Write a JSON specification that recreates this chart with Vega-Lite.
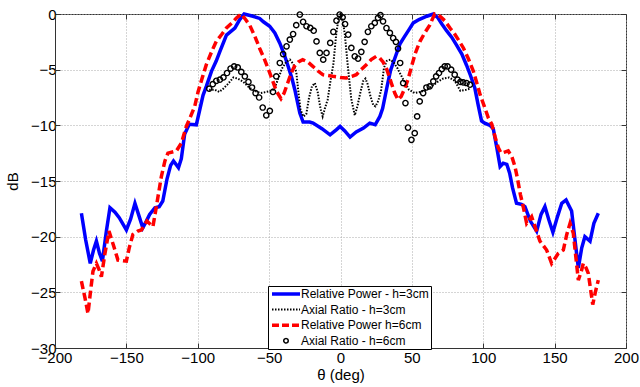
{
  "$schema": "https://vega.github.io/schema/vega-lite/v6.json",
  "width": 571,
  "height": 334,
  "autosize": {"type": "none"},
  "padding": {"left": 55, "top": 14, "right": 14, "bottom": 39},
  "background": "white",
  "config": {
    "font": "Liberation Sans",
    "view": {"stroke": "#333333", "strokeWidth": 1},
    "axis": {
      "labelFont": "Liberation Sans", "titleFont": "Liberation Sans",
      "labelFontSize": 15, "titleFontSize": 15, "labelColor": "#000", "titleColor": "#000",
      "titleFontWeight": "normal", "domainColor": "#333", "tickColor": "#333",
      "gridColor": "#aaaaaa", "gridDash": [1, 2], "gridWidth": 1, "gridOpacity": 1,
      "tickSize": -5, "labelPadding": 4
    },
    "legend": {
      "labelFont": "Liberation Sans", "labelFontSize": 12, "labelColor": "#000",
      "strokeColor": "#000", "fillColor": "white", "padding": 3, "rowPadding": 2,
      "labelOffset": 2, "labelLimit": 300
    }
  },
  "resolve": {"axis": {"x": "independent", "y": "independent"}},
  "data": {"values": [
    {"theta": -181.5, "dB": -17.9, "s": "Relative Power - h=3cm"},
    {"theta": -178.5, "dB": -20.3, "s": "Relative Power - h=3cm"},
    {"theta": -175.3, "dB": -22.4, "s": "Relative Power - h=3cm"},
    {"theta": -173, "dB": -21.2, "s": "Relative Power - h=3cm"},
    {"theta": -171, "dB": -20.4, "s": "Relative Power - h=3cm"},
    {"theta": -168.8, "dB": -21.5, "s": "Relative Power - h=3cm"},
    {"theta": -166.8, "dB": -22.2, "s": "Relative Power - h=3cm"},
    {"theta": -164, "dB": -19.5, "s": "Relative Power - h=3cm"},
    {"theta": -161.5, "dB": -17.4, "s": "Relative Power - h=3cm"},
    {"theta": -158, "dB": -17.8, "s": "Relative Power - h=3cm"},
    {"theta": -155, "dB": -18.3, "s": "Relative Power - h=3cm"},
    {"theta": -150, "dB": -19.4, "s": "Relative Power - h=3cm"},
    {"theta": -147, "dB": -18.4, "s": "Relative Power - h=3cm"},
    {"theta": -144, "dB": -17.0, "s": "Relative Power - h=3cm"},
    {"theta": -141, "dB": -18.2, "s": "Relative Power - h=3cm"},
    {"theta": -138.5, "dB": -19.2, "s": "Relative Power - h=3cm"},
    {"theta": -136, "dB": -18.6, "s": "Relative Power - h=3cm"},
    {"theta": -133.7, "dB": -18.0, "s": "Relative Power - h=3cm"},
    {"theta": -130, "dB": -17.4, "s": "Relative Power - h=3cm"},
    {"theta": -127, "dB": -17.3, "s": "Relative Power - h=3cm"},
    {"theta": -124.5, "dB": -16.8, "s": "Relative Power - h=3cm"},
    {"theta": -121.5, "dB": -14.8, "s": "Relative Power - h=3cm"},
    {"theta": -119, "dB": -13.6, "s": "Relative Power - h=3cm"},
    {"theta": -117, "dB": -13.2, "s": "Relative Power - h=3cm"},
    {"theta": -113.5, "dB": -13.8, "s": "Relative Power - h=3cm"},
    {"theta": -111.5, "dB": -13.0, "s": "Relative Power - h=3cm"},
    {"theta": -109.2, "dB": -10.8, "s": "Relative Power - h=3cm"},
    {"theta": -106, "dB": -9.9, "s": "Relative Power - h=3cm"},
    {"theta": -101, "dB": -9.95, "s": "Relative Power - h=3cm"},
    {"theta": -98.6, "dB": -8.6, "s": "Relative Power - h=3cm"},
    {"theta": -96.3, "dB": -7.3, "s": "Relative Power - h=3cm"},
    {"theta": -94, "dB": -6.5, "s": "Relative Power - h=3cm"},
    {"theta": -90.4, "dB": -5.15, "s": "Relative Power - h=3cm"},
    {"theta": -87, "dB": -4.2, "s": "Relative Power - h=3cm"},
    {"theta": -84.6, "dB": -3.4, "s": "Relative Power - h=3cm"},
    {"theta": -79.9, "dB": -1.9, "s": "Relative Power - h=3cm"},
    {"theta": -74, "dB": -1.26, "s": "Relative Power - h=3cm"},
    {"theta": -70.6, "dB": -0.5, "s": "Relative Power - h=3cm"},
    {"theta": -67.5, "dB": 0, "s": "Relative Power - h=3cm"},
    {"theta": -61.3, "dB": -0.2, "s": "Relative Power - h=3cm"},
    {"theta": -56.6, "dB": -0.4, "s": "Relative Power - h=3cm"},
    {"theta": -54, "dB": -0.7, "s": "Relative Power - h=3cm"},
    {"theta": -49.6, "dB": -1.1, "s": "Relative Power - h=3cm"},
    {"theta": -46, "dB": -1.7, "s": "Relative Power - h=3cm"},
    {"theta": -42.6, "dB": -2.6, "s": "Relative Power - h=3cm"},
    {"theta": -39.5, "dB": -3.6, "s": "Relative Power - h=3cm"},
    {"theta": -36.7, "dB": -4.7, "s": "Relative Power - h=3cm"},
    {"theta": -34, "dB": -5.8, "s": "Relative Power - h=3cm"},
    {"theta": -32, "dB": -6.8, "s": "Relative Power - h=3cm"},
    {"theta": -28.5, "dB": -8.9, "s": "Relative Power - h=3cm"},
    {"theta": -26.2, "dB": -9.7, "s": "Relative Power - h=3cm"},
    {"theta": -21.6, "dB": -9.7, "s": "Relative Power - h=3cm"},
    {"theta": -19.2, "dB": -9.8, "s": "Relative Power - h=3cm"},
    {"theta": -13, "dB": -10.3, "s": "Relative Power - h=3cm"},
    {"theta": -7.3, "dB": -10.85, "s": "Relative Power - h=3cm"},
    {"theta": -3, "dB": -10.4, "s": "Relative Power - h=3cm"},
    {"theta": -0.3, "dB": -10.1, "s": "Relative Power - h=3cm"},
    {"theta": 3, "dB": -10.5, "s": "Relative Power - h=3cm"},
    {"theta": 6.7, "dB": -11.05, "s": "Relative Power - h=3cm"},
    {"theta": 11, "dB": -10.6, "s": "Relative Power - h=3cm"},
    {"theta": 16.1, "dB": -10.25, "s": "Relative Power - h=3cm"},
    {"theta": 20.5, "dB": -9.8, "s": "Relative Power - h=3cm"},
    {"theta": 24.3, "dB": -9.95, "s": "Relative Power - h=3cm"},
    {"theta": 27.6, "dB": -9.2, "s": "Relative Power - h=3cm"},
    {"theta": 29.5, "dB": -8.5, "s": "Relative Power - h=3cm"},
    {"theta": 32.5, "dB": -6.6, "s": "Relative Power - h=3cm"},
    {"theta": 35, "dB": -5.1, "s": "Relative Power - h=3cm"},
    {"theta": 38, "dB": -4.0, "s": "Relative Power - h=3cm"},
    {"theta": 41.6, "dB": -2.7, "s": "Relative Power - h=3cm"},
    {"theta": 44.5, "dB": -2.1, "s": "Relative Power - h=3cm"},
    {"theta": 48, "dB": -1.4, "s": "Relative Power - h=3cm"},
    {"theta": 51, "dB": -0.8, "s": "Relative Power - h=3cm"},
    {"theta": 55, "dB": -0.5, "s": "Relative Power - h=3cm"},
    {"theta": 60.5, "dB": -0.2, "s": "Relative Power - h=3cm"},
    {"theta": 65, "dB": 0, "s": "Relative Power - h=3cm"},
    {"theta": 68, "dB": -0.3, "s": "Relative Power - h=3cm"},
    {"theta": 71, "dB": -0.9, "s": "Relative Power - h=3cm"},
    {"theta": 74.3, "dB": -1.5, "s": "Relative Power - h=3cm"},
    {"theta": 78, "dB": -2.1, "s": "Relative Power - h=3cm"},
    {"theta": 81.3, "dB": -2.8, "s": "Relative Power - h=3cm"},
    {"theta": 85, "dB": -3.6, "s": "Relative Power - h=3cm"},
    {"theta": 88.3, "dB": -4.6, "s": "Relative Power - h=3cm"},
    {"theta": 91, "dB": -5.5, "s": "Relative Power - h=3cm"},
    {"theta": 94.1, "dB": -6.65, "s": "Relative Power - h=3cm"},
    {"theta": 96.5, "dB": -8.2, "s": "Relative Power - h=3cm"},
    {"theta": 98.8, "dB": -9.6, "s": "Relative Power - h=3cm"},
    {"theta": 101, "dB": -9.8, "s": "Relative Power - h=3cm"},
    {"theta": 104.7, "dB": -10.0, "s": "Relative Power - h=3cm"},
    {"theta": 107, "dB": -10.3, "s": "Relative Power - h=3cm"},
    {"theta": 109.5, "dB": -12.0, "s": "Relative Power - h=3cm"},
    {"theta": 111.8, "dB": -13.7, "s": "Relative Power - h=3cm"},
    {"theta": 114, "dB": -13.4, "s": "Relative Power - h=3cm"},
    {"theta": 116.5, "dB": -13.5, "s": "Relative Power - h=3cm"},
    {"theta": 118.5, "dB": -14.3, "s": "Relative Power - h=3cm"},
    {"theta": 120.5, "dB": -15.6, "s": "Relative Power - h=3cm"},
    {"theta": 123.3, "dB": -17.0, "s": "Relative Power - h=3cm"},
    {"theta": 126.8, "dB": -17.1, "s": "Relative Power - h=3cm"},
    {"theta": 129.2, "dB": -17.3, "s": "Relative Power - h=3cm"},
    {"theta": 133, "dB": -18.6, "s": "Relative Power - h=3cm"},
    {"theta": 137.4, "dB": -19.5, "s": "Relative Power - h=3cm"},
    {"theta": 140.5, "dB": -18.0, "s": "Relative Power - h=3cm"},
    {"theta": 143.2, "dB": -17.3, "s": "Relative Power - h=3cm"},
    {"theta": 146, "dB": -18.5, "s": "Relative Power - h=3cm"},
    {"theta": 148.8, "dB": -19.6, "s": "Relative Power - h=3cm"},
    {"theta": 152, "dB": -18.2, "s": "Relative Power - h=3cm"},
    {"theta": 155, "dB": -17.0, "s": "Relative Power - h=3cm"},
    {"theta": 158, "dB": -16.7, "s": "Relative Power - h=3cm"},
    {"theta": 161.9, "dB": -17.7, "s": "Relative Power - h=3cm"},
    {"theta": 164, "dB": -20.0, "s": "Relative Power - h=3cm"},
    {"theta": 166.6, "dB": -22.8, "s": "Relative Power - h=3cm"},
    {"theta": 169, "dB": -21.0, "s": "Relative Power - h=3cm"},
    {"theta": 171.2, "dB": -20.0, "s": "Relative Power - h=3cm"},
    {"theta": 174.8, "dB": -20.4, "s": "Relative Power - h=3cm"},
    {"theta": 177.5, "dB": -18.8, "s": "Relative Power - h=3cm"},
    {"theta": 180.6, "dB": -17.9, "s": "Relative Power - h=3cm"},

    {"theta": -92, "dB": -6.8, "s": "Axial Ratio - h=3cm"},
    {"theta": -88, "dB": -6.8, "s": "Axial Ratio - h=3cm"},
    {"theta": -85, "dB": -7.0, "s": "Axial Ratio - h=3cm"},
    {"theta": -82, "dB": -6.7, "s": "Axial Ratio - h=3cm"},
    {"theta": -79, "dB": -6.3, "s": "Axial Ratio - h=3cm"},
    {"theta": -75, "dB": -5.7, "s": "Axial Ratio - h=3cm"},
    {"theta": -72, "dB": -5.8, "s": "Axial Ratio - h=3cm"},
    {"theta": -68, "dB": -6.1, "s": "Axial Ratio - h=3cm"},
    {"theta": -64, "dB": -6.6, "s": "Axial Ratio - h=3cm"},
    {"theta": -60, "dB": -6.9, "s": "Axial Ratio - h=3cm"},
    {"theta": -56, "dB": -7.1, "s": "Axial Ratio - h=3cm"},
    {"theta": -52, "dB": -7.0, "s": "Axial Ratio - h=3cm"},
    {"theta": -48, "dB": -6.9, "s": "Axial Ratio - h=3cm"},
    {"theta": -46, "dB": -6.6, "s": "Axial Ratio - h=3cm"},
    {"theta": -43, "dB": -5.6, "s": "Axial Ratio - h=3cm"},
    {"theta": -41, "dB": -4.9, "s": "Axial Ratio - h=3cm"},
    {"theta": -38, "dB": -4.3, "s": "Axial Ratio - h=3cm"},
    {"theta": -35.5, "dB": -4.1, "s": "Axial Ratio - h=3cm"},
    {"theta": -33, "dB": -4.5, "s": "Axial Ratio - h=3cm"},
    {"theta": -31, "dB": -5.2, "s": "Axial Ratio - h=3cm"},
    {"theta": -29.5, "dB": -7.0, "s": "Axial Ratio - h=3cm"},
    {"theta": -28, "dB": -8.6, "s": "Axial Ratio - h=3cm"},
    {"theta": -26, "dB": -9.2, "s": "Axial Ratio - h=3cm"},
    {"theta": -24, "dB": -9.0, "s": "Axial Ratio - h=3cm"},
    {"theta": -22, "dB": -7.5, "s": "Axial Ratio - h=3cm"},
    {"theta": -20, "dB": -6.5, "s": "Axial Ratio - h=3cm"},
    {"theta": -18, "dB": -6.2, "s": "Axial Ratio - h=3cm"},
    {"theta": -16, "dB": -7.0, "s": "Axial Ratio - h=3cm"},
    {"theta": -14, "dB": -8.5, "s": "Axial Ratio - h=3cm"},
    {"theta": -12.5, "dB": -9.2, "s": "Axial Ratio - h=3cm"},
    {"theta": -11, "dB": -8.5, "s": "Axial Ratio - h=3cm"},
    {"theta": -9, "dB": -7.7, "s": "Axial Ratio - h=3cm"},
    {"theta": -7, "dB": -6.0, "s": "Axial Ratio - h=3cm"},
    {"theta": -5, "dB": -4.5, "s": "Axial Ratio - h=3cm"},
    {"theta": -3, "dB": -1.8, "s": "Axial Ratio - h=3cm"},
    {"theta": -1, "dB": -0.1, "s": "Axial Ratio - h=3cm"},
    {"theta": 0, "dB": 0, "s": "Axial Ratio - h=3cm"},
    {"theta": 1.5, "dB": -0.5, "s": "Axial Ratio - h=3cm"},
    {"theta": 3, "dB": -1.8, "s": "Axial Ratio - h=3cm"},
    {"theta": 5, "dB": -4.5, "s": "Axial Ratio - h=3cm"},
    {"theta": 7.5, "dB": -7.6, "s": "Axial Ratio - h=3cm"},
    {"theta": 10, "dB": -9.1, "s": "Axial Ratio - h=3cm"},
    {"theta": 12, "dB": -8.2, "s": "Axial Ratio - h=3cm"},
    {"theta": 14, "dB": -7.0, "s": "Axial Ratio - h=3cm"},
    {"theta": 16, "dB": -6.0, "s": "Axial Ratio - h=3cm"},
    {"theta": 17.5, "dB": -5.8, "s": "Axial Ratio - h=3cm"},
    {"theta": 19, "dB": -6.3, "s": "Axial Ratio - h=3cm"},
    {"theta": 21, "dB": -7.4, "s": "Axial Ratio - h=3cm"},
    {"theta": 23, "dB": -8.2, "s": "Axial Ratio - h=3cm"},
    {"theta": 24.5, "dB": -8.3, "s": "Axial Ratio - h=3cm"},
    {"theta": 26.5, "dB": -7.8, "s": "Axial Ratio - h=3cm"},
    {"theta": 28.5, "dB": -6.8, "s": "Axial Ratio - h=3cm"},
    {"theta": 30.5, "dB": -4.8, "s": "Axial Ratio - h=3cm"},
    {"theta": 32.5, "dB": -4.2, "s": "Axial Ratio - h=3cm"},
    {"theta": 35, "dB": -4.1, "s": "Axial Ratio - h=3cm"},
    {"theta": 37.5, "dB": -4.4, "s": "Axial Ratio - h=3cm"},
    {"theta": 40, "dB": -4.9, "s": "Axial Ratio - h=3cm"},
    {"theta": 44, "dB": -5.9, "s": "Axial Ratio - h=3cm"},
    {"theta": 48, "dB": -6.8, "s": "Axial Ratio - h=3cm"},
    {"theta": 52, "dB": -7.1, "s": "Axial Ratio - h=3cm"},
    {"theta": 56, "dB": -7.0, "s": "Axial Ratio - h=3cm"},
    {"theta": 60, "dB": -6.8, "s": "Axial Ratio - h=3cm"},
    {"theta": 64, "dB": -6.5, "s": "Axial Ratio - h=3cm"},
    {"theta": 68, "dB": -6.1, "s": "Axial Ratio - h=3cm"},
    {"theta": 72, "dB": -5.8, "s": "Axial Ratio - h=3cm"},
    {"theta": 76, "dB": -5.7, "s": "Axial Ratio - h=3cm"},
    {"theta": 80, "dB": -6.0, "s": "Axial Ratio - h=3cm"},
    {"theta": 84, "dB": -6.9, "s": "Axial Ratio - h=3cm"},
    {"theta": 88, "dB": -6.8, "s": "Axial Ratio - h=3cm"},
    {"theta": 91, "dB": -6.7, "s": "Axial Ratio - h=3cm"},

    {"theta": -181.5, "dB": -24.0, "s": "Relative Power h=6cm"},
    {"theta": -179, "dB": -25.5, "s": "Relative Power h=6cm"},
    {"theta": -176.9, "dB": -26.9, "s": "Relative Power h=6cm"},
    {"theta": -175, "dB": -24.8, "s": "Relative Power h=6cm"},
    {"theta": -173.4, "dB": -23.1, "s": "Relative Power h=6cm"},
    {"theta": -171, "dB": -22.4, "s": "Relative Power h=6cm"},
    {"theta": -169, "dB": -23.0, "s": "Relative Power h=6cm"},
    {"theta": -167.5, "dB": -23.6, "s": "Relative Power h=6cm"},
    {"theta": -165, "dB": -21.5, "s": "Relative Power h=6cm"},
    {"theta": -162.2, "dB": -19.5, "s": "Relative Power h=6cm"},
    {"theta": -159, "dB": -20.8, "s": "Relative Power h=6cm"},
    {"theta": -155.9, "dB": -22.1, "s": "Relative Power h=6cm"},
    {"theta": -150, "dB": -22.2, "s": "Relative Power h=6cm"},
    {"theta": -148, "dB": -21.0, "s": "Relative Power h=6cm"},
    {"theta": -145.4, "dB": -19.8, "s": "Relative Power h=6cm"},
    {"theta": -142, "dB": -19.5, "s": "Relative Power h=6cm"},
    {"theta": -139.5, "dB": -19.4, "s": "Relative Power h=6cm"},
    {"theta": -135.6, "dB": -18.6, "s": "Relative Power h=6cm"},
    {"theta": -131.4, "dB": -19.1, "s": "Relative Power h=6cm"},
    {"theta": -129, "dB": -17.3, "s": "Relative Power h=6cm"},
    {"theta": -125.5, "dB": -14.6, "s": "Relative Power h=6cm"},
    {"theta": -123, "dB": -13.2, "s": "Relative Power h=6cm"},
    {"theta": -120.9, "dB": -12.5, "s": "Relative Power h=6cm"},
    {"theta": -115, "dB": -12.3, "s": "Relative Power h=6cm"},
    {"theta": -111.5, "dB": -11.6, "s": "Relative Power h=6cm"},
    {"theta": -108, "dB": -10.1, "s": "Relative Power h=6cm"},
    {"theta": -105, "dB": -9.2, "s": "Relative Power h=6cm"},
    {"theta": -102.1, "dB": -8.3, "s": "Relative Power h=6cm"},
    {"theta": -99.8, "dB": -7.0, "s": "Relative Power h=6cm"},
    {"theta": -97, "dB": -5.8, "s": "Relative Power h=6cm"},
    {"theta": -94, "dB": -4.55, "s": "Relative Power h=6cm"},
    {"theta": -90, "dB": -3.3, "s": "Relative Power h=6cm"},
    {"theta": -87, "dB": -2.46, "s": "Relative Power h=6cm"},
    {"theta": -83, "dB": -1.8, "s": "Relative Power h=6cm"},
    {"theta": -79.9, "dB": -1.26, "s": "Relative Power h=6cm"},
    {"theta": -76, "dB": -0.8, "s": "Relative Power h=6cm"},
    {"theta": -72.9, "dB": -0.36, "s": "Relative Power h=6cm"},
    {"theta": -69.4, "dB": 0, "s": "Relative Power h=6cm"},
    {"theta": -66.5, "dB": -0.5, "s": "Relative Power h=6cm"},
    {"theta": -63.6, "dB": -1.0, "s": "Relative Power h=6cm"},
    {"theta": -60, "dB": -2.0, "s": "Relative Power h=6cm"},
    {"theta": -56.6, "dB": -3.1, "s": "Relative Power h=6cm"},
    {"theta": -53.5, "dB": -4.0, "s": "Relative Power h=6cm"},
    {"theta": -50.7, "dB": -4.9, "s": "Relative Power h=6cm"},
    {"theta": -47.5, "dB": -6.0, "s": "Relative Power h=6cm"},
    {"theta": -45, "dB": -6.9, "s": "Relative Power h=6cm"},
    {"theta": -41.7, "dB": -7.6, "s": "Relative Power h=6cm"},
    {"theta": -39.5, "dB": -7.1, "s": "Relative Power h=6cm"},
    {"theta": -37, "dB": -6.2, "s": "Relative Power h=6cm"},
    {"theta": -34.5, "dB": -5.3, "s": "Relative Power h=6cm"},
    {"theta": -32.3, "dB": -4.7, "s": "Relative Power h=6cm"},
    {"theta": -29.5, "dB": -4.3, "s": "Relative Power h=6cm"},
    {"theta": -26.5, "dB": -4.1, "s": "Relative Power h=6cm"},
    {"theta": -23, "dB": -4.3, "s": "Relative Power h=6cm"},
    {"theta": -19.4, "dB": -4.7, "s": "Relative Power h=6cm"},
    {"theta": -16, "dB": -5.1, "s": "Relative Power h=6cm"},
    {"theta": -12.4, "dB": -5.45, "s": "Relative Power h=6cm"},
    {"theta": -5.4, "dB": -5.6, "s": "Relative Power h=6cm"},
    {"theta": 0, "dB": -5.7, "s": "Relative Power h=6cm"},
    {"theta": 4, "dB": -5.75, "s": "Relative Power h=6cm"},
    {"theta": 8, "dB": -5.6, "s": "Relative Power h=6cm"},
    {"theta": 11, "dB": -5.45, "s": "Relative Power h=6cm"},
    {"theta": 14.5, "dB": -5.0, "s": "Relative Power h=6cm"},
    {"theta": 18.1, "dB": -4.55, "s": "Relative Power h=6cm"},
    {"theta": 21.5, "dB": -4.1, "s": "Relative Power h=6cm"},
    {"theta": 25.1, "dB": -3.8, "s": "Relative Power h=6cm"},
    {"theta": 27.5, "dB": -3.95, "s": "Relative Power h=6cm"},
    {"theta": 29.8, "dB": -4.3, "s": "Relative Power h=6cm"},
    {"theta": 32.5, "dB": -5.0, "s": "Relative Power h=6cm"},
    {"theta": 35.6, "dB": -6.2, "s": "Relative Power h=6cm"},
    {"theta": 38, "dB": -7.1, "s": "Relative Power h=6cm"},
    {"theta": 40.3, "dB": -7.7, "s": "Relative Power h=6cm"},
    {"theta": 42.5, "dB": -7.4, "s": "Relative Power h=6cm"},
    {"theta": 45, "dB": -6.7, "s": "Relative Power h=6cm"},
    {"theta": 47.5, "dB": -5.8, "s": "Relative Power h=6cm"},
    {"theta": 50, "dB": -4.6, "s": "Relative Power h=6cm"},
    {"theta": 52.5, "dB": -3.5, "s": "Relative Power h=6cm"},
    {"theta": 55.5, "dB": -2.5, "s": "Relative Power h=6cm"},
    {"theta": 59, "dB": -1.7, "s": "Relative Power h=6cm"},
    {"theta": 62.5, "dB": -1.0, "s": "Relative Power h=6cm"},
    {"theta": 66, "dB": 0, "s": "Relative Power h=6cm"},
    {"theta": 69.7, "dB": -0.2, "s": "Relative Power h=6cm"},
    {"theta": 73, "dB": -0.6, "s": "Relative Power h=6cm"},
    {"theta": 76.7, "dB": -1.26, "s": "Relative Power h=6cm"},
    {"theta": 80, "dB": -1.8, "s": "Relative Power h=6cm"},
    {"theta": 83, "dB": -2.4, "s": "Relative Power h=6cm"},
    {"theta": 86.1, "dB": -3.05, "s": "Relative Power h=6cm"},
    {"theta": 89.5, "dB": -4.0, "s": "Relative Power h=6cm"},
    {"theta": 93.1, "dB": -5.15, "s": "Relative Power h=6cm"},
    {"theta": 95.5, "dB": -6.2, "s": "Relative Power h=6cm"},
    {"theta": 97.8, "dB": -7.25, "s": "Relative Power h=6cm"},
    {"theta": 100.5, "dB": -8.2, "s": "Relative Power h=6cm"},
    {"theta": 103.6, "dB": -9.35, "s": "Relative Power h=6cm"},
    {"theta": 106, "dB": -9.9, "s": "Relative Power h=6cm"},
    {"theta": 108.2, "dB": -11.0, "s": "Relative Power h=6cm"},
    {"theta": 110.5, "dB": -12.0, "s": "Relative Power h=6cm"},
    {"theta": 112.5, "dB": -12.5, "s": "Relative Power h=6cm"},
    {"theta": 115, "dB": -12.4, "s": "Relative Power h=6cm"},
    {"theta": 117.5, "dB": -12.3, "s": "Relative Power h=6cm"},
    {"theta": 120, "dB": -12.8, "s": "Relative Power h=6cm"},
    {"theta": 122.2, "dB": -13.7, "s": "Relative Power h=6cm"},
    {"theta": 124, "dB": -14.8, "s": "Relative Power h=6cm"},
    {"theta": 126, "dB": -16.2, "s": "Relative Power h=6cm"},
    {"theta": 128, "dB": -17.3, "s": "Relative Power h=6cm"},
    {"theta": 130.4, "dB": -18.8, "s": "Relative Power h=6cm"},
    {"theta": 133.9, "dB": -18.2, "s": "Relative Power h=6cm"},
    {"theta": 136.5, "dB": -19.2, "s": "Relative Power h=6cm"},
    {"theta": 139.7, "dB": -20.4, "s": "Relative Power h=6cm"},
    {"theta": 144.4, "dB": -21.2, "s": "Relative Power h=6cm"},
    {"theta": 147.9, "dB": -22.4, "s": "Relative Power h=6cm"},
    {"theta": 150, "dB": -22.0, "s": "Relative Power h=6cm"},
    {"theta": 152.6, "dB": -21.5, "s": "Relative Power h=6cm"},
    {"theta": 156.1, "dB": -21.2, "s": "Relative Power h=6cm"},
    {"theta": 158.5, "dB": -19.8, "s": "Relative Power h=6cm"},
    {"theta": 160.8, "dB": -18.8, "s": "Relative Power h=6cm"},
    {"theta": 163.1, "dB": -19.7, "s": "Relative Power h=6cm"},
    {"theta": 165, "dB": -22.0, "s": "Relative Power h=6cm"},
    {"theta": 166.6, "dB": -23.9, "s": "Relative Power h=6cm"},
    {"theta": 168.5, "dB": -23.2, "s": "Relative Power h=6cm"},
    {"theta": 170.1, "dB": -22.4, "s": "Relative Power h=6cm"},
    {"theta": 172, "dB": -22.8, "s": "Relative Power h=6cm"},
    {"theta": 173.6, "dB": -23.3, "s": "Relative Power h=6cm"},
    {"theta": 176.7, "dB": -26.1, "s": "Relative Power h=6cm"},
    {"theta": 178.5, "dB": -25.0, "s": "Relative Power h=6cm"},
    {"theta": 180.6, "dB": -23.9, "s": "Relative Power h=6cm"},

    {"theta": -92, "dB": -6.7, "s": "Axial Ratio - h=6cm"},
    {"theta": -89.5, "dB": -6.3, "s": "Axial Ratio - h=6cm"},
    {"theta": -87, "dB": -6.0, "s": "Axial Ratio - h=6cm"},
    {"theta": -84.5, "dB": -5.9, "s": "Axial Ratio - h=6cm"},
    {"theta": -82, "dB": -5.7, "s": "Axial Ratio - h=6cm"},
    {"theta": -79.5, "dB": -5.3, "s": "Axial Ratio - h=6cm"},
    {"theta": -77, "dB": -4.9, "s": "Axial Ratio - h=6cm"},
    {"theta": -74.5, "dB": -4.7, "s": "Axial Ratio - h=6cm"},
    {"theta": -72, "dB": -4.8, "s": "Axial Ratio - h=6cm"},
    {"theta": -69.5, "dB": -5.2, "s": "Axial Ratio - h=6cm"},
    {"theta": -67, "dB": -5.6, "s": "Axial Ratio - h=6cm"},
    {"theta": -64.5, "dB": -6.1, "s": "Axial Ratio - h=6cm"},
    {"theta": -62, "dB": -6.6, "s": "Axial Ratio - h=6cm"},
    {"theta": -59.5, "dB": -7.1, "s": "Axial Ratio - h=6cm"},
    {"theta": -57, "dB": -7.5, "s": "Axial Ratio - h=6cm"},
    {"theta": -54.5, "dB": -8.4, "s": "Axial Ratio - h=6cm"},
    {"theta": -52, "dB": -9.1, "s": "Axial Ratio - h=6cm"},
    {"theta": -49.5, "dB": -8.7, "s": "Axial Ratio - h=6cm"},
    {"theta": -47.3, "dB": -7.0, "s": "Axial Ratio - h=6cm"},
    {"theta": -45, "dB": -5.6, "s": "Axial Ratio - h=6cm"},
    {"theta": -42.5, "dB": -4.4, "s": "Axial Ratio - h=6cm"},
    {"theta": -40.2, "dB": -3.6, "s": "Axial Ratio - h=6cm"},
    {"theta": -37.8, "dB": -2.9, "s": "Axial Ratio - h=6cm"},
    {"theta": -35.5, "dB": -2.3, "s": "Axial Ratio - h=6cm"},
    {"theta": -33.2, "dB": -1.8, "s": "Axial Ratio - h=6cm"},
    {"theta": -31, "dB": -1.0, "s": "Axial Ratio - h=6cm"},
    {"theta": -28.5, "dB": -0.05, "s": "Axial Ratio - h=6cm"},
    {"theta": -26.2, "dB": -0.7, "s": "Axial Ratio - h=6cm"},
    {"theta": -23.8, "dB": -1.1, "s": "Axial Ratio - h=6cm"},
    {"theta": -21.2, "dB": -1.25, "s": "Axial Ratio - h=6cm"},
    {"theta": -18.8, "dB": -1.5, "s": "Axial Ratio - h=6cm"},
    {"theta": -16.8, "dB": -2.46, "s": "Axial Ratio - h=6cm"},
    {"theta": -14.5, "dB": -3.5, "s": "Axial Ratio - h=6cm"},
    {"theta": -12.1, "dB": -4.1, "s": "Axial Ratio - h=6cm"},
    {"theta": -9.8, "dB": -3.5, "s": "Axial Ratio - h=6cm"},
    {"theta": -7.2, "dB": -2.6, "s": "Axial Ratio - h=6cm"},
    {"theta": -5, "dB": -1.6, "s": "Axial Ratio - h=6cm"},
    {"theta": -2.8, "dB": -0.6, "s": "Axial Ratio - h=6cm"},
    {"theta": -0.6, "dB": -0.05, "s": "Axial Ratio - h=6cm"},
    {"theta": 1.5, "dB": -0.3, "s": "Axial Ratio - h=6cm"},
    {"theta": 3.2, "dB": -0.9, "s": "Axial Ratio - h=6cm"},
    {"theta": 5.4, "dB": -1.86, "s": "Axial Ratio - h=6cm"},
    {"theta": 7.6, "dB": -3.05, "s": "Axial Ratio - h=6cm"},
    {"theta": 10, "dB": -3.8, "s": "Axial Ratio - h=6cm"},
    {"theta": 12.3, "dB": -4.0, "s": "Axial Ratio - h=6cm"},
    {"theta": 14.6, "dB": -3.4, "s": "Axial Ratio - h=6cm"},
    {"theta": 16.9, "dB": -2.5, "s": "Axial Ratio - h=6cm"},
    {"theta": 19.2, "dB": -1.6, "s": "Axial Ratio - h=6cm"},
    {"theta": 21.6, "dB": -1.1, "s": "Axial Ratio - h=6cm"},
    {"theta": 24, "dB": -0.8, "s": "Axial Ratio - h=6cm"},
    {"theta": 26.3, "dB": -0.35, "s": "Axial Ratio - h=6cm"},
    {"theta": 28, "dB": -0.1, "s": "Axial Ratio - h=6cm"},
    {"theta": 29.8, "dB": -0.66, "s": "Axial Ratio - h=6cm"},
    {"theta": 32.2, "dB": -1.26, "s": "Axial Ratio - h=6cm"},
    {"theta": 34.6, "dB": -1.7, "s": "Axial Ratio - h=6cm"},
    {"theta": 36.9, "dB": -2.16, "s": "Axial Ratio - h=6cm"},
    {"theta": 38.8, "dB": -2.5, "s": "Axial Ratio - h=6cm"},
    {"theta": 40.3, "dB": -3.1, "s": "Axial Ratio - h=6cm"},
    {"theta": 41.8, "dB": -4.4, "s": "Axial Ratio - h=6cm"},
    {"theta": 43.9, "dB": -6.2, "s": "Axial Ratio - h=6cm"},
    {"theta": 45.5, "dB": -8.0, "s": "Axial Ratio - h=6cm"},
    {"theta": 47.3, "dB": -10.2, "s": "Axial Ratio - h=6cm"},
    {"theta": 49.7, "dB": -11.3, "s": "Axial Ratio - h=6cm"},
    {"theta": 52, "dB": -10.7, "s": "Axial Ratio - h=6cm"},
    {"theta": 53.7, "dB": -9.2, "s": "Axial Ratio - h=6cm"},
    {"theta": 55.5, "dB": -7.85, "s": "Axial Ratio - h=6cm"},
    {"theta": 57.9, "dB": -7.1, "s": "Axial Ratio - h=6cm"},
    {"theta": 60.2, "dB": -6.6, "s": "Axial Ratio - h=6cm"},
    {"theta": 62.5, "dB": -6.5, "s": "Axial Ratio - h=6cm"},
    {"theta": 65, "dB": -6.05, "s": "Axial Ratio - h=6cm"},
    {"theta": 67, "dB": -5.6, "s": "Axial Ratio - h=6cm"},
    {"theta": 69, "dB": -5.3, "s": "Axial Ratio - h=6cm"},
    {"theta": 71, "dB": -4.95, "s": "Axial Ratio - h=6cm"},
    {"theta": 73, "dB": -4.7, "s": "Axial Ratio - h=6cm"},
    {"theta": 75, "dB": -4.7, "s": "Axial Ratio - h=6cm"},
    {"theta": 77.5, "dB": -5.0, "s": "Axial Ratio - h=6cm"},
    {"theta": 80, "dB": -5.45, "s": "Axial Ratio - h=6cm"},
    {"theta": 82, "dB": -5.9, "s": "Axial Ratio - h=6cm"},
    {"theta": 84, "dB": -6.1, "s": "Axial Ratio - h=6cm"},
    {"theta": 86, "dB": -6.15, "s": "Axial Ratio - h=6cm"},
    {"theta": 88.3, "dB": -6.2, "s": "Axial Ratio - h=6cm"},
    {"theta": 90.7, "dB": -6.35, "s": "Axial Ratio - h=6cm"}
  ]},
  "encoding": {
    "x": {"field": "theta", "type": "quantitative",
      "scale": {"domain": [-200, 200], "nice": false, "zero": false},
      "axis": null},
    "y": {"field": "dB", "type": "quantitative",
      "scale": {"domain": [-30, 0], "nice": false, "zero": false},
      "axis": null},
    "color": {"field": "s", "type": "nominal",
      "scale": {"domain": ["Relative Power - h=3cm", "Axial Ratio - h=3cm", "Relative Power h=6cm", "Axial Ratio - h=6cm"], "range": ["#0000ff", "#000000", "#ff0000", "#000000"]},
      "legend": {"title": null, "orient": "none", "legendX": 213, "legendY": 272,
        "symbolSize": 100, "labelOffset": 19, "rowPadding": 2.6, "padding": 2,
        "encode": {"symbols": {"update": {
          "shape": {"signal": "datum.value === 'Axial Ratio - h=6cm' ? 'circle' : 'stroke'"},
          "size": {"signal": "datum.value === 'Axial Ratio - h=6cm' ? 20 : 784"},
          "x": {"value": 16},
          "strokeDash": {"signal": "datum.value === 'Relative Power h=6cm' ? [7, 3] : datum.value === 'Axial Ratio - h=3cm' ? [1.5, 1.5] : [1, 0]"},
          "strokeWidth": {"signal": "datum.value === 'Relative Power - h=3cm' || datum.value === 'Relative Power h=6cm' ? 3.5 : (datum.value === 'Axial Ratio - h=3cm' ? 2 : 1.5)"},
          "fill": {"value": "transparent"},
          "opacity": {"value": 1}
        }}}}}
  },
  "layer": [
    {
      "transform": [{"filter": {"field": "s", "equal": "Relative Power - h=3cm"}}],
      "mark": {"type": "line", "strokeWidth": 3.5},
      "encoding": {
        "x": {"field": "theta", "type": "quantitative",
          "axis": {"values": [-200, -150, -100, -50, 0, 50, 100, 150, 200], "title": "θ (deg)", "titlePadding": 2, "labelPadding": 7, "labelFlush": false}},
        "y": {"field": "dB", "type": "quantitative",
          "axis": {"values": [-30, -25, -20, -15, -10, -5, 0], "title": "dB", "titlePadding": 10, "labelFlush": false}}
      }
    },
    {
      "transform": [{"filter": {"field": "s", "equal": "Axial Ratio - h=3cm"}}],
      "mark": {"type": "line", "strokeWidth": 2, "strokeDash": [1.5, 1.5]},
      "encoding": {
        "x": {"field": "theta", "type": "quantitative",
          "axis": {"orient": "top", "values": [-200, -150, -100, -50, 0, 50, 100, 150, 200], "labels": false, "grid": false, "domain": false, "title": null}},
        "y": {"field": "dB", "type": "quantitative",
          "axis": {"orient": "right", "values": [-30, -25, -20, -15, -10, -5, 0], "labels": false, "grid": false, "domain": false, "title": null}}
      }
    },
    {
      "transform": [{"filter": {"field": "s", "equal": "Relative Power h=6cm"}}],
      "mark": {"type": "line", "strokeWidth": 3.5, "strokeDash": [8, 4]}
    },
    {
      "transform": [{"filter": {"field": "s", "equal": "Axial Ratio - h=6cm"}}],
      "mark": {"type": "point", "filled": false, "opacity": 1, "size": 28, "strokeWidth": 1.4}
    }
  ]
}
